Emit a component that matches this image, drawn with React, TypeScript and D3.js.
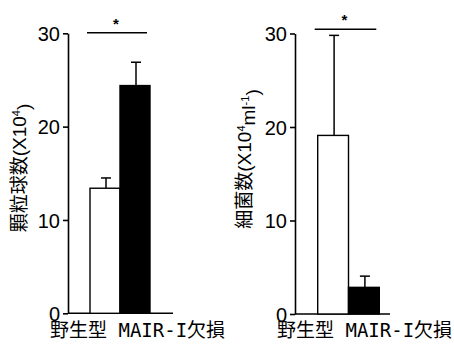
import { useEffect, useRef } from 'react';
import * as d3 from 'd3';

const categories = ['野生型', 'MAIR-I欠損'];
const yTicks = [0, 10, 20, 30];
// granulocyte count (x10^4)
const granulocyteMeans = [13.4, 24.4];
const granulocyteErrors = [1.1, 2.5];
// bacteria count (x10^4 ml^-1)
const bacteriaMeans = [19.1, 2.85];
const bacteriaErrors = [10.7, 1.2];
const barFills = ['#ffffff', '#000000'];

interface Panel {
  means: number[];
  errors: number[];
  label: { main: string; sup1: string; mid: string; sup2: string; end: string };
  axisX: number;
  axisEnd: number;
  y0: number;
  yTop: number;
  barRange: [number, number];
  sigY: number;
  labelX: number;
  labelY: number;
}

const panels: Panel[] = [
  {
    means: granulocyteMeans,
    errors: granulocyteErrors,
    label: { main: '顆粒球数(X10', sup1: '4', mid: ')', sup2: '', end: '' },
    axisX: 68,
    axisEnd: 173,
    y0: 313.3,
    yTop: 33.3,
    barRange: [90, 150],
    sigY: 32.7,
    labelX: 19,
    labelY: 168,
  },
  {
    means: bacteriaMeans,
    errors: bacteriaErrors,
    label: { main: '細菌数(X10', sup1: '4', mid: 'ml', sup2: '-1', end: ')' },
    axisX: 295,
    axisEnd: 390,
    y0: 314,
    yTop: 33.5,
    barRange: [317.7, 379.3],
    sigY: 29.3,
    labelX: 244,
    labelY: 159,
  },
];

const App = () => {
  const ref = useRef<SVGSVGElement>(null);

  useEffect(() => {
    if (!ref.current) return;
    const root = d3.select(ref.current);
    root.selectAll('*').remove();

    panels.forEach(p => {
      const g = root.append('g');
      const y = d3.scaleLinear().domain([0, 30]).range([p.y0, p.yTop]);
      const x = d3.scaleBand().domain(categories).range(p.barRange).paddingInner(0);

      // y axis
      const yAxis = g.append('g')
        .attr('transform', `translate(${p.axisX},0)`)
        .call(d3.axisLeft(y).tickValues(yTicks).tickSize(5).tickPadding(3).tickSizeOuter(0));
      yAxis.select('.domain').attr('stroke', '#000').attr('stroke-width', 1.6);
      yAxis.selectAll('.tick line').attr('stroke', '#000').attr('stroke-width', 1.6);
      yAxis.selectAll('.tick text')
        .attr('fill', '#000')
        .style('font-family', 'Liberation Sans, Arial, sans-serif')
        .style('font-size', '20px')
        .attr('dy', '0.36em');

      // x axis line
      g.append('line')
        .attr('x1', p.axisX).attr('x2', p.axisEnd)
        .attr('y1', p.y0).attr('y2', p.y0)
        .attr('stroke', '#000').attr('stroke-width', 1.6);

      // error bars
      categories.forEach((c, i) => {
        const cx = (x(c) || 0) + x.bandwidth() / 2 + 1;
        const top = y(p.means[i] + p.errors[i]);
        g.append('line')
          .attr('x1', cx).attr('x2', cx)
          .attr('y1', y(p.means[i])).attr('y2', top)
          .attr('stroke', '#000').attr('stroke-width', 1.5);
        g.append('line')
          .attr('x1', cx - 5).attr('x2', cx + 5)
          .attr('y1', top).attr('y2', top)
          .attr('stroke', '#000').attr('stroke-width', 1.5);
      });

      // bars
      g.selectAll('.bar')
        .data(p.means)
        .enter()
        .append('rect')
        .attr('x', (_d, i) => x(categories[i]) || 0)
        .attr('y', d => y(d))
        .attr('width', x.bandwidth())
        .attr('height', d => p.y0 - y(d))
        .attr('fill', (_d, i) => barFills[i])
        .attr('stroke', '#000')
        .attr('stroke-width', 1.4);

      // significance
      const [b0, b1] = p.barRange;
      g.append('line')
        .attr('x1', b0 - 3).attr('x2', b1 - 3)
        .attr('y1', p.sigY).attr('y2', p.sigY)
        .attr('stroke', '#000').attr('stroke-width', 1.4);
      g.append('text')
        .attr('x', (b0 + b1) / 2 - 4)
        .attr('y', p.sigY - 4)
        .attr('text-anchor', 'middle')
        .style('font-family', 'Liberation Sans, Arial, sans-serif')
        .style('font-size', '15px')
        .style('font-weight', 'bold')
        .text('*');

      // y label
      const lab = g.append('text')
        .attr('transform', `translate(${p.labelX},${p.labelY}) rotate(-90)`)
        .attr('text-anchor', 'middle')
        .attr('dy', '0.35em')
        .style('font-family', 'Liberation Sans, Noto Sans CJK JP, sans-serif')
        .style('font-size', '19px');
      lab.append('tspan').text(p.label.main);
      lab.append('tspan').attr('dy', '-0.5em').style('font-size', '11px').text(p.label.sup1);
      lab.append('tspan').attr('dy', '0.5em').text(p.label.mid);
      if (p.label.sup2) {
        lab.append('tspan').attr('dy', '-0.5em').style('font-size', '11px').text(p.label.sup2);
        lab.append('tspan').attr('dy', '0.5em').text(p.label.end);
      }

      // category labels
      g.append('text')
        .attr('x', p.axisX - 18)
        .attr('y', 337)
        .style('font-family', 'DejaVu Sans Mono, Noto Sans CJK JP, monospace')
        .style('font-size', '19px')
        .text(categories.join(' '));
    });
  }, []);

  return (
    <svg
      ref={ref}
      width={454}
      height={355}
      style={{ position: 'absolute', left: 0, top: 0, background: '#fff' }}
    />
  );
};

export default App;
